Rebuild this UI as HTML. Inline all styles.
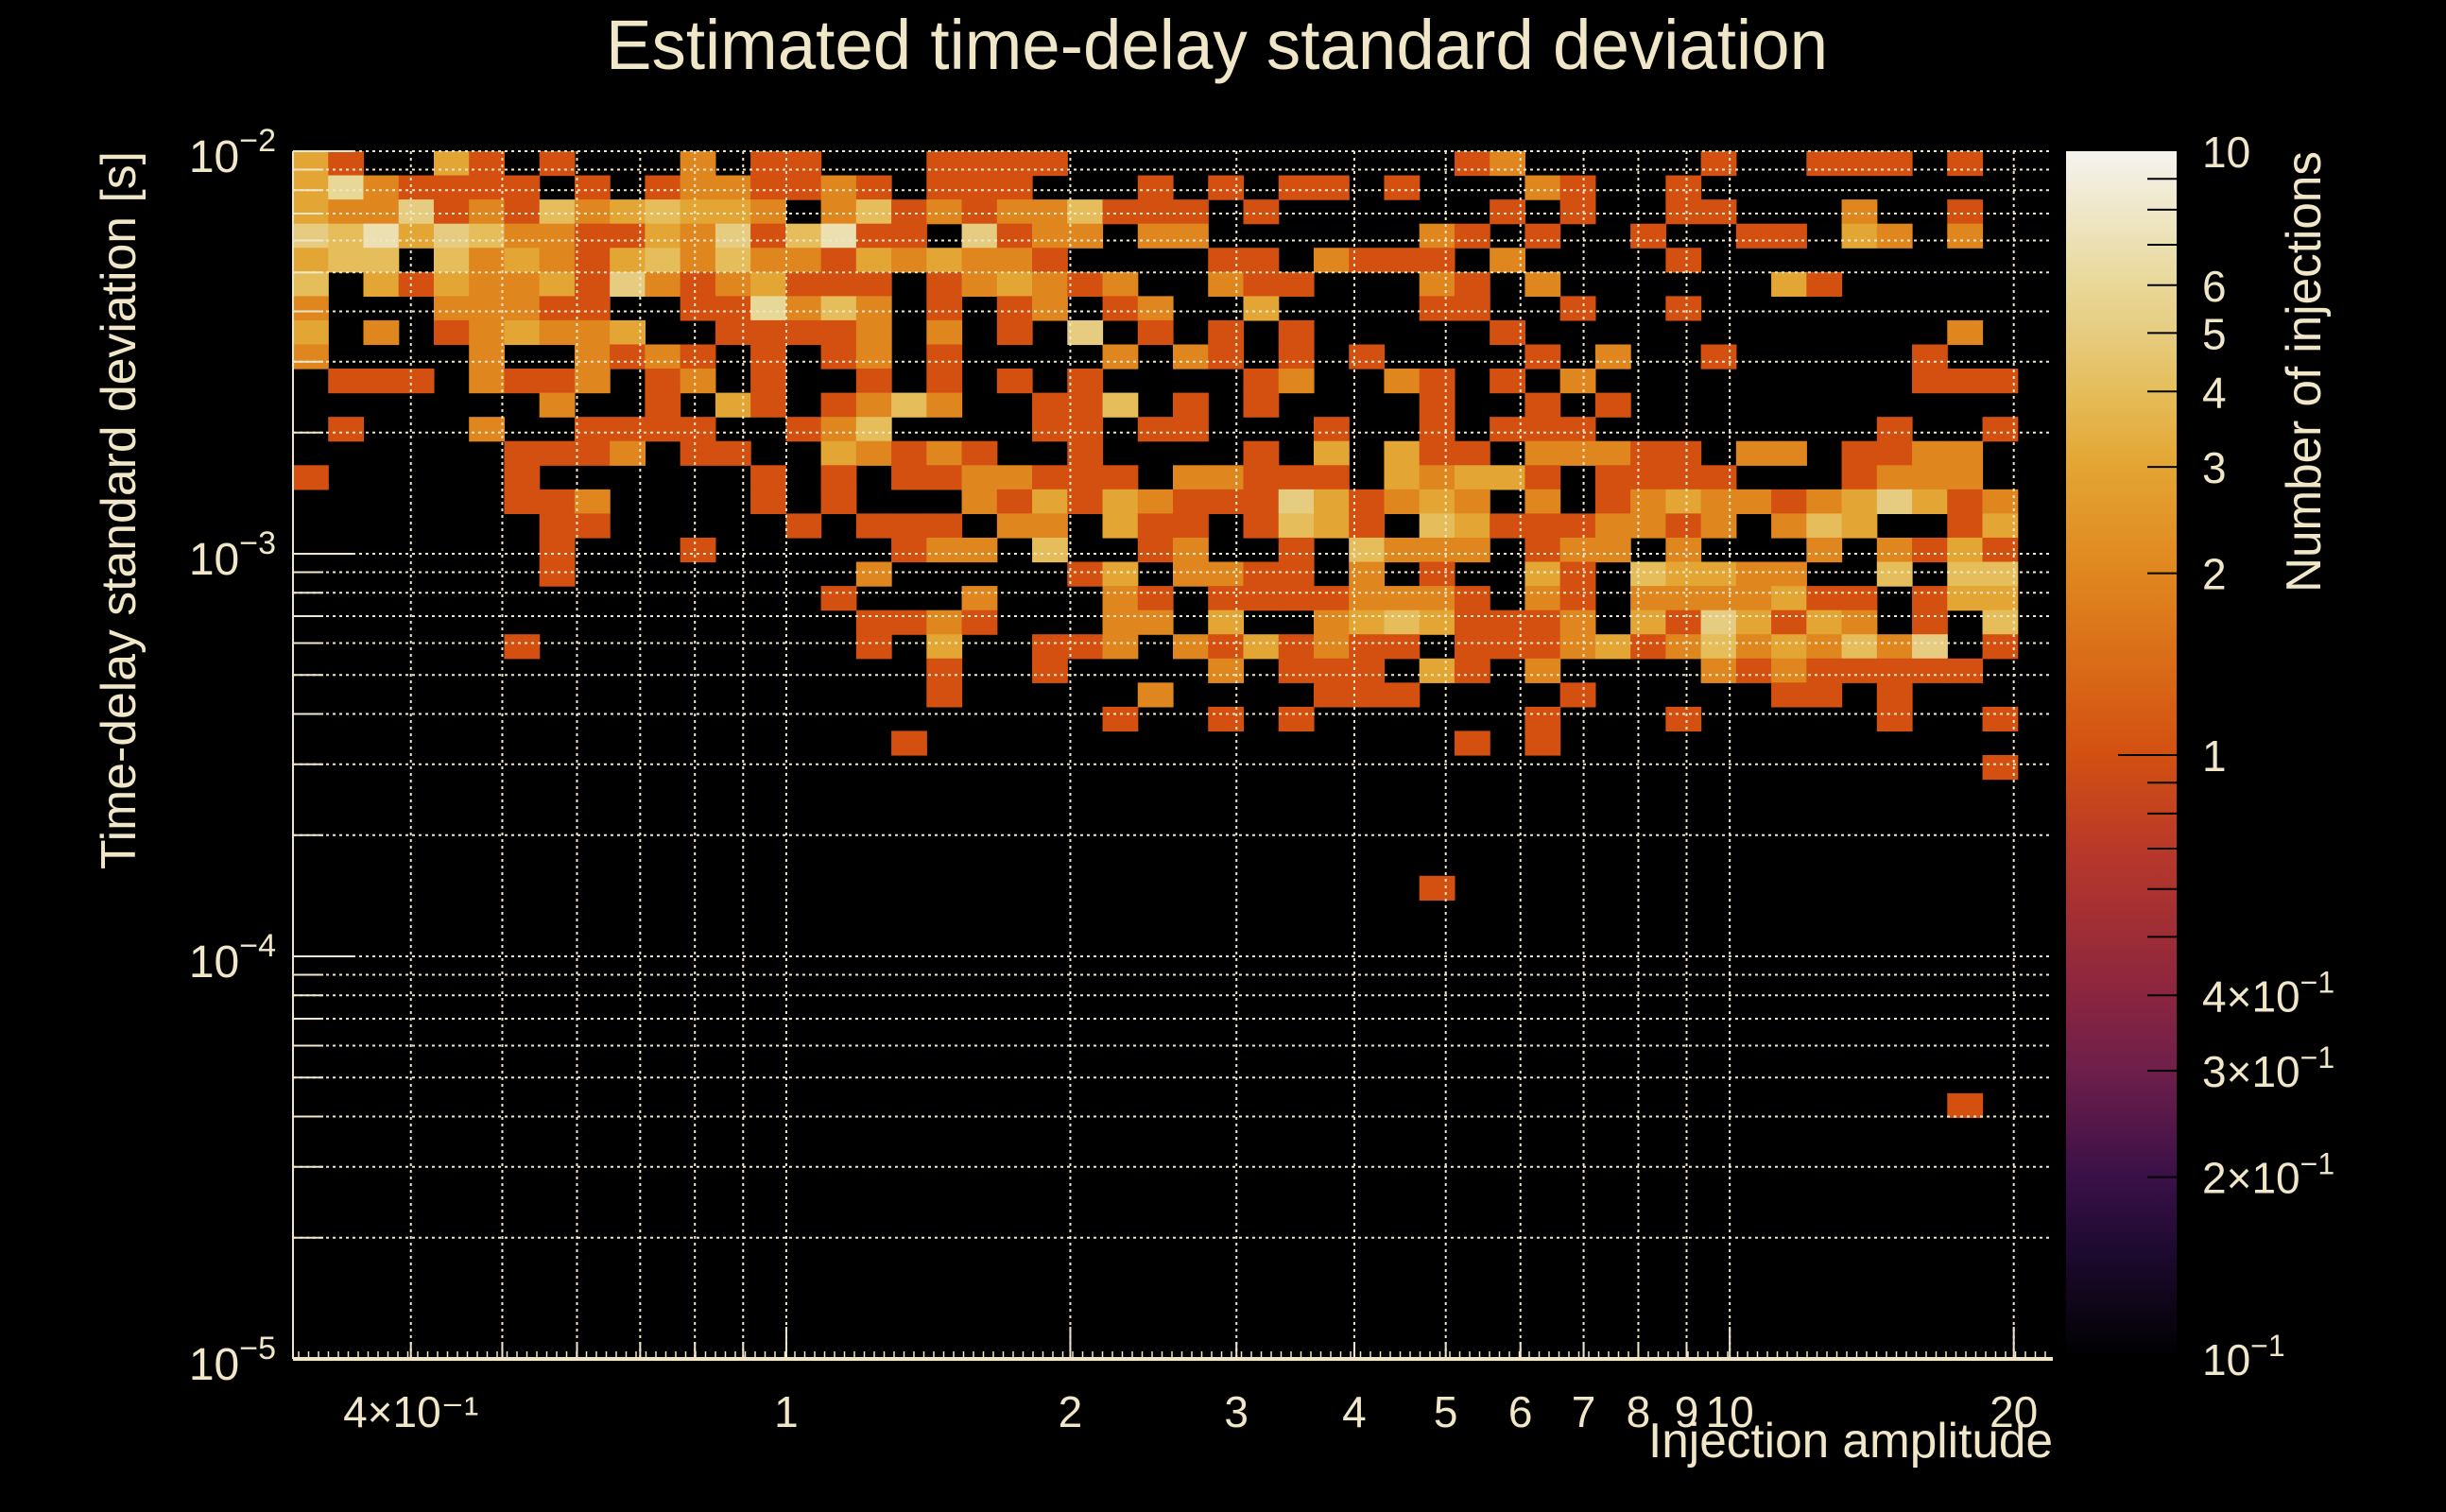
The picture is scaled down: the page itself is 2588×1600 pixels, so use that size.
<!DOCTYPE html>
<html><head><meta charset="utf-8"><title>Estimated time-delay standard deviation</title>
<style>
html,body{margin:0;padding:0;background:#000;}
svg{display:block;}
text{font-family:"Liberation Sans",sans-serif;fill:#f0e6c8;}
</style></head>
<body>
<svg id="chart" width="2588" height="1600" viewBox="0 0 2588 1600" xmlns="http://www.w3.org/2000/svg">
<defs>
<linearGradient id="pal" x1="0" y1="1" x2="0" y2="0">
<stop offset="0" stop-color="#000000"/><stop offset="0.09" stop-color="#1e0a30"/>
<stop offset="0.15" stop-color="#3a1048"/><stop offset="0.24" stop-color="#6e1f4a"/>
<stop offset="0.30" stop-color="#8a2540"/><stop offset="0.42" stop-color="#b8382a"/>
<stop offset="0.5" stop-color="#d35011"/><stop offset="0.65" stop-color="#e0861f"/>
<stop offset="0.74" stop-color="#e3a533"/><stop offset="0.80" stop-color="#e5bd5a"/>
<stop offset="0.85" stop-color="#e6cc80"/><stop offset="0.89" stop-color="#e8d898"/>
<stop offset="0.95" stop-color="#efe7c8"/><stop offset="1" stop-color="#f5f3ef"/>
</linearGradient>
</defs>
<rect x="0" y="0" width="2588" height="1600" fill="#000"/>
<text x="641" y="73" font-size="74" textLength="1293" lengthAdjust="spacingAndGlyphs">Estimated time-delay standard deviation</text>
<g id="cells"></g>
<g id="grid"></g>
<g id="axes"></g>
<rect x="2186" y="160" width="117" height="1278" fill="url(#pal)"/>
<g id="cbar"></g>
<text transform="translate(143,160) rotate(-90)" text-anchor="end" font-size="52" textLength="760" lengthAdjust="spacingAndGlyphs">Time-delay standard deviation [s]</text>
<text x="2172" y="1542" text-anchor="end" font-size="52" textLength="428" lengthAdjust="spacingAndGlyphs">Injection amplitude</text>
<text transform="translate(2455,160) rotate(-90)" text-anchor="end" font-size="52" textLength="467" lengthAdjust="spacingAndGlyphs">Number of injections</text>
</svg>
<script>
// ---- data ----
const xBinMin = 0.3, xBinMax = 22, nXBins = 50;
const yBinMin = 1e-5, yBinMax = 1e-2, nYBins = 50;
// counts per row, row 0 = top (largest delay); 5 groups of 10 columns (left -> right)
const Z = "0000000000 0000000000 0000000000 0000000000 0000000000";
const countRows = [
"3100310100 0201100011 1100000000 0001200000 1001110100",
"3621111010 1221121011 1000101011 0100021001 0000000000",
"3225121423 4332024121 2241110100 0000101001 1000200100",
"5473542211 3251471105 1220220000 0021010010 0110320200",
"3440423213 4242213232 2100001102 1110200001 0000000000",
"4031322315 2123111012 3212002110 0021020000 0031000000",
"2000222110 0116242010 1201200300 0011001001 0000000000",
"3020123223 0011112020 1050101010 0000100000 0000000200",
"2000020021 2101012010 0002021010 1000010200 1000001000",
"0111021120 1201001010 1010000120 0210102000 0000001110",
"0000000200 1031012420 0114010100 0010010100 0000000000",
"0100020011 1100124000 0110110001 0010111000 0000010010",
"0000001112 0110032121 0010000103 0311022211 0220112200",
"1000001000 0001010112 2111022111 0323310111 1000122200",
"0000001120 0001010002 1313211153 1232020123 2212353120",
"0000000110 0000101110 2203110143 1043111221 2024300130",
"0000000100 0100000122 0400120010 4222012202 0002021310",
"0000000100 0000002000 0013022110 2010031043 3220040440",
"0000000000 0000010002 0002101111 2221021022 2231101330",
"0000000000 0000001121 0002203002 3431112031 5313201040",
"0000001000 0000001030 0112021312 1101112312 4232425010",
"0000000000 0000000010 0100002011 1031020000 2121111100",
"0000000000 0000000010 0000200001 1100001000 0011010000",
"0000000000 0000000000 0001001010 0000010001 0000010010",
"0000000000 0000000100 0000000000 0001010000 0000000000",
"0000000000 0000000000 0000000000 0000000000 0000000010",
Z, Z, Z, Z,
"0000000000 0000000000 0000000000 0010000000 0000000000",
Z, Z, Z, Z, Z, Z, Z, Z,
"0000000000 0000000000 0000000000 0000000000 0000000100"
];
const xTickValues = [0.4,0.5,0.6,0.7,0.8,0.9,1,2,3,4,5,6,7,8,9,10,20];
const xTickLabels = ["4×10⁻¹","","","","","","1","2","3","4","5","6","7","8","9","10","20"];
const yTickExps = [-5,-4,-3,-2];
const cbTickValues = [10,6,5,4,3,2,1,0.4,0.3,0.2,0.1];
const cbTickLabels = ["10","6","5","4","3","2","1","4×10","3×10","2×10","10"];
const cbTickSup = ["","","","","","","","−1","−1","−1","−1"];
</script>
<script>
const NS = "http://www.w3.org/2000/svg";
const PX0 = 310, PX1 = 2172, PY0 = 160, PY1 = 1438;
const CB_X0 = 2186, CB_X1 = 2303;
const cMin = 0.1, cMax = 10;
const LX0 = Math.log10(xBinMin), LX1 = Math.log10(xBinMax);
const LY0 = Math.log10(yBinMin), LY1 = Math.log10(yBinMax);
function xScale(v){ return PX0 + (Math.log10(v) - LX0) / (LX1 - LX0) * (PX1 - PX0); }
function yScale(v){ return PY1 - (Math.log10(v) - LY0) / (LY1 - LY0) * (PY1 - PY0); }
function cScale(v){ return PY1 - (Math.log10(v) - Math.log10(cMin)) / (Math.log10(cMax) - Math.log10(cMin)) * (PY1 - PY0); }
const stops = [[0,"#000000"],[0.09,"#1e0a30"],[0.15,"#3a1048"],[0.24,"#6e1f4a"],[0.30,"#8a2540"],[0.42,"#b8382a"],[0.5,"#d35011"],[0.65,"#e0861f"],[0.74,"#e3a533"],[0.80,"#e5bd5a"],[0.85,"#e6cc80"],[0.89,"#e8d898"],[0.95,"#efe7c8"],[1,"#f5f3ef"]];
function hex(h){ return [1,3,5].map(i=>parseInt(h.substr(i,2),16)); }
function colorOf(v){
  let t = (Math.log10(v) - Math.log10(cMin)) / (Math.log10(cMax) - Math.log10(cMin));
  t = Math.max(0, Math.min(1, t));
  for (let i = 1; i < stops.length; i++) {
    if (t <= stops[i][0]) {
      const a = hex(stops[i-1][1]), b = hex(stops[i][1]);
      const f = (t - stops[i-1][0]) / (stops[i][0] - stops[i-1][0]);
      return "rgb(" + a.map((c,k)=>Math.round(c + (b[k]-c)*f)).join(",") + ")";
    }
  }
  return stops[stops.length-1][1];
}
function mk(tag, attrs, parent){
  const e = document.createElementNS(NS, tag);
  for (const k in attrs) e.setAttribute(k, attrs[k]);
  parent.appendChild(e); return e;
}
// ---- cells ----
const cellsG = document.getElementById("cells");
const xEdge = i => Math.pow(10, LX0 + (LX1 - LX0) * i / nXBins);
const yEdge = j => Math.pow(10, LY0 + (LY1 - LY0) * j / nYBins);
countRows.forEach((rowStr, r) => {
  const vals = rowStr.replace(/\s/g, "").slice(0, nXBins).split("").map(Number);
  const j = nYBins - 1 - r;
  vals.forEach((v, i) => {
    if (v <= 0) return;
    const x0 = xScale(xEdge(i)), x1 = xScale(xEdge(i+1));
    const yT = yScale(yEdge(j+1)), yB = yScale(yEdge(j));
    const c = mk("rect", {x: x0, y: yT, width: x1 - x0 + 0.6, height: yB - yT + 0.6, fill: colorOf(v)}, cellsG);
    
    
  });
});
// ---- grid ----
const gridG = document.getElementById("grid");
const gstyle = {stroke: "#f0e6c8", "stroke-width": 2, "stroke-dasharray": "3 4"};
xTickValues.forEach(v => {
  const x = xScale(v);
  const g = mk("line", Object.assign({x1: x, x2: x, y1: PY0, y2: PY1}, gstyle), gridG);
  
  
});
const yGridVals = [];
yTickExps.forEach(e => { for (let m = 1; m <= 9; m++) { const v = m * Math.pow(10, e); if (v <= yBinMax * 1.0001 && v > yBinMin * 1.0001) yGridVals.push(v); } });
yGridVals.forEach(v => {
  const y = yScale(v);
  const g = mk("line", Object.assign({x1: PX0, x2: PX1, y1: y, y2: y}, gstyle), gridG);
  
  
});
// ---- axes ----
const axG = document.getElementById("axes");
const axCol = "#f0e6c8";
let l = mk("line", {x1: PX0, x2: PX0, y1: PY0, y2: PY1, stroke: axCol, "stroke-width": 2}, axG);


l = mk("line", {x1: PX0, x2: PX1, y1: PY1, y2: PY1, stroke: axCol, "stroke-width": 4}, axG);


for (let x = PX0 + 6; x < PX1; x += 10.5) {
  mk("line", {x1: x, x2: x, y1: PY1, y2: PY1 - 8, stroke: axCol, "stroke-width": 1.5}, axG);
}
xTickValues.forEach((v, i) => {
  const x = xScale(v);
  const len = (v === 1 || v === 2 || v === 10 || v === 20) ? 34 : 18;
  mk("line", {x1: x, x2: x, y1: PY1, y2: PY1 - len, stroke: axCol, "stroke-width": 2}, axG);
  if (xTickLabels[i]) {
    const t = mk("text", {x: x, y: 1510, "text-anchor": "middle", "font-size": 46}, axG);
    t.textContent = xTickLabels[i];
    
    
  }
});
yGridVals.concat([yBinMin]).forEach(v => {
  const y = yScale(v);
  const major = Math.abs(Math.log10(v) - Math.round(Math.log10(v))) < 1e-6;
  mk("line", {x1: PX0, x2: PX0 + (major ? 63 : 32), y1: y, y2: y, stroke: axCol, "stroke-width": 2}, axG);
});
yTickExps.forEach(e => {
  const y = yScale(Math.pow(10, e));
  const t = mk("text", {x: 292, y: y + 22, "text-anchor": "end", "font-size": 48}, axG);
  
  
  const a = document.createElementNS(NS, "tspan"); a.textContent = "10"; t.appendChild(a);
  const b = document.createElementNS(NS, "tspan"); b.setAttribute("dy", "-22"); b.setAttribute("font-size", "34"); b.textContent = "−" + Math.abs(e); t.appendChild(b);
});
// ---- colorbar axis ----
const cbG = document.getElementById("cbar");
const cbMinor = [0.2,0.3,0.4,0.5,0.6,0.7,0.8,0.9,2,3,4,5,6,7,8,9];
cbMinor.forEach(v => {
  const y = cScale(v);
  mk("line", {x1: 2272, x2: CB_X1, y1: y, y2: y, stroke: "#000", "stroke-width": 2}, cbG);
});
mk("line", {x1: 2241, x2: CB_X1, y1: cScale(1), y2: cScale(1), stroke: "#000", "stroke-width": 2}, cbG);
cbTickValues.forEach((v, i) => {
  const y = cScale(v);
  const t = mk("text", {x: 2330, y: y + 17, "font-size": 46}, cbG);
  
  
  const a = document.createElementNS(NS, "tspan"); a.textContent = cbTickLabels[i]; t.appendChild(a);
  if (cbTickSup[i]) { const b = document.createElementNS(NS, "tspan"); b.setAttribute("dy", "-20"); b.setAttribute("font-size", "32"); b.textContent = cbTickSup[i]; t.appendChild(b); }
});
</script>
</body></html>
